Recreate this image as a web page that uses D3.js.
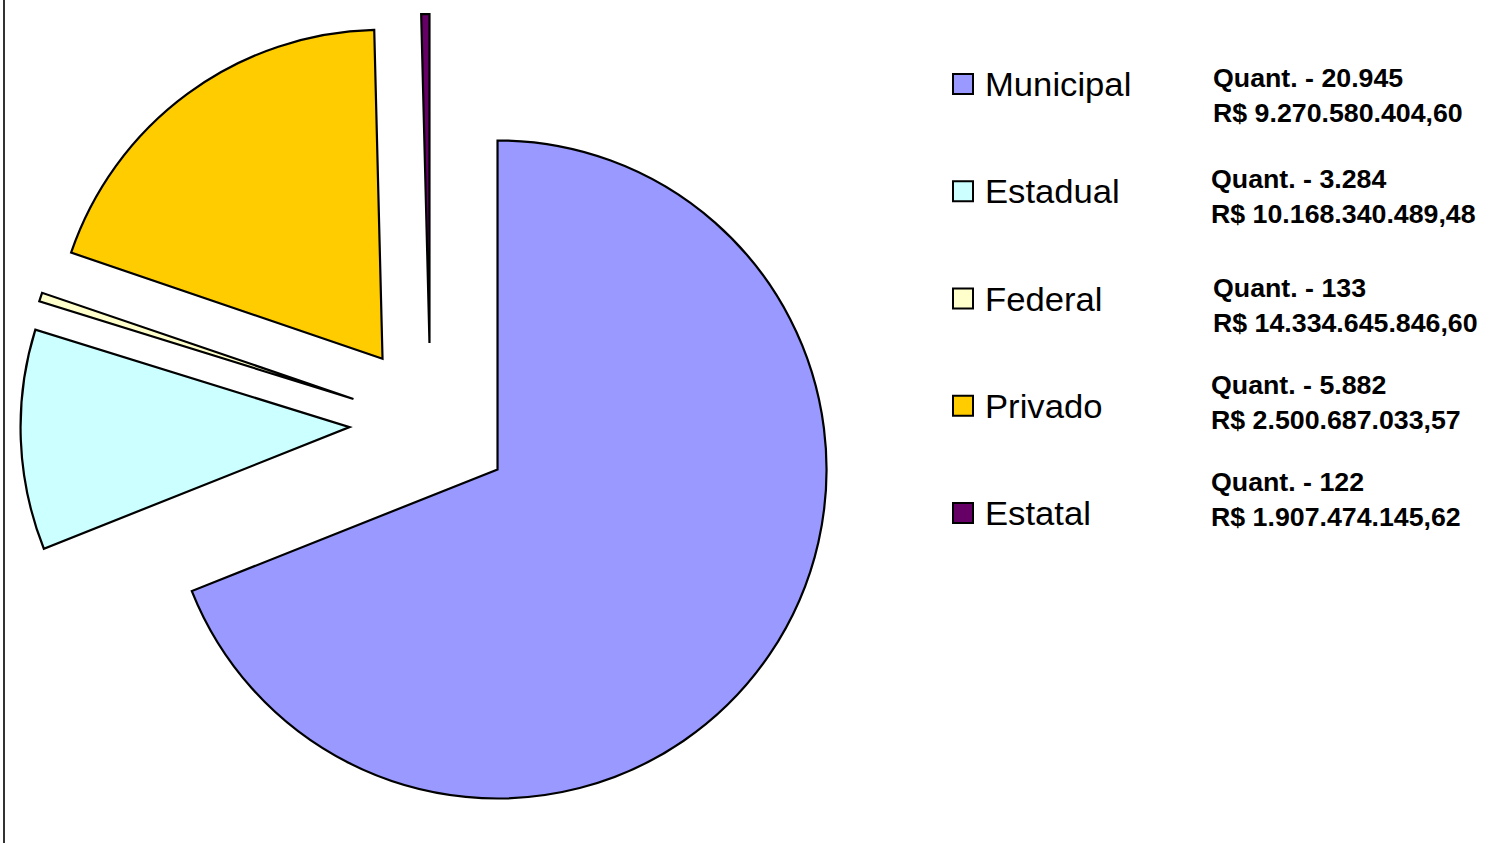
<!DOCTYPE html>
<html>
<head>
<meta charset="utf-8">
<script src="https://cdn.jsdelivr.net/npm/d3@7"></script>
<style>
  body { margin: 0; background: #fff; }
  svg { display: block; }
</style>
</head>
<body>
<div id="chart"></div>
<script>
// data
const categorias = ["Municipal", "Estadual", "Federal", "Privado", "Estatal"];
const quantidades = [20945, 3284, 133, 5882, 122];
const quantLabels = ["20.945", "3.284", "133", "5.882", "122"];
const valores = ["9.270.580.404,60", "10.168.340.489,48", "14.334.645.846,60", "2.500.687.033,57", "1.907.474.145,62"];
const cores = ["#9999FF", "#CCFFFF", "#FFFFCC", "#FFCC00", "#660066"];

const width = 1500, height = 843;
const cx = 430.5, cy = 424, radius = 329, explode = 81;

const svg = d3.select("#chart").append("svg")
  .attr("width", width)
  .attr("height", height);

// left frame line
svg.append("line")
  .attr("x1", 4).attr("x2", 4)
  .attr("y1", 0).attr("y2", height)
  .attr("stroke", "#333").attr("stroke-width", 2);

const data = categorias.map((c, i) => ({nome: c, quant: quantidades[i], cor: cores[i]}));

const pie = d3.pie().sort(null).value(d => d.quant);
const arc = d3.arc().innerRadius(0).outerRadius(radius);

const g = svg.append("g").attr("transform", `translate(${cx},${cy})`);

// every slice pulled out along its middle angle
g.selectAll("path")
  .data(pie(data))
  .join("path")
  .attr("d", arc)
  .attr("fill", d => d.data.cor)
  .attr("stroke", "#000")
  .attr("stroke-width", 2.2)
  .attr("stroke-linejoin", "miter")
  .attr("transform", d => {
    const mid = (d.startAngle + d.endAngle) / 2;
    return `translate(${explode * Math.sin(mid)},${-explode * Math.cos(mid)})`;
  });

// legend
const legendY = d3.scaleLinear().domain([0, categorias.length - 1]).range([84, 513]);
const legend = svg.append("g");

const item = legend.selectAll("g")
  .data(data)
  .join("g")
  .attr("transform", (d, i) => `translate(953,${legendY(i)})`);

item.append("rect")
  .attr("x", 0).attr("y", -10)
  .attr("width", 20).attr("height", 20)
  .attr("fill", d => d.cor)
  .attr("stroke", "#000")
  .attr("stroke-width", 2);

item.append("text")
  .attr("transform", "translate(32,12) scale(1.05,1)")
  .attr("font-family", "Liberation Sans, Arial, sans-serif")
  .attr("font-size", 33)
  .attr("fill", "#000")
  .text(d => d.nome);

// value texts at the right
const quantY = [87, 188, 297, 394, 491];
const quantX = [1213, 1211, 1213, 1211, 1211];

const valoresG = svg.append("g")
  .attr("font-family", "Liberation Sans, Arial, sans-serif")
  .attr("font-weight", "bold")
  .attr("font-size", 25)
  .attr("fill", "#000");

categorias.forEach((c, i) => {
  valoresG.append("text")
    .attr("transform", `translate(${quantX[i]},${quantY[i]}) scale(1.07,1)`)
    .text("Quant. - " + quantLabels[i]);
  valoresG.append("text")
    .attr("transform", `translate(${quantX[i]},${quantY[i] + 35}) scale(1.07,1)`)
    .text("R$ " + valores[i]);
});
</script>
</body>
</html>
